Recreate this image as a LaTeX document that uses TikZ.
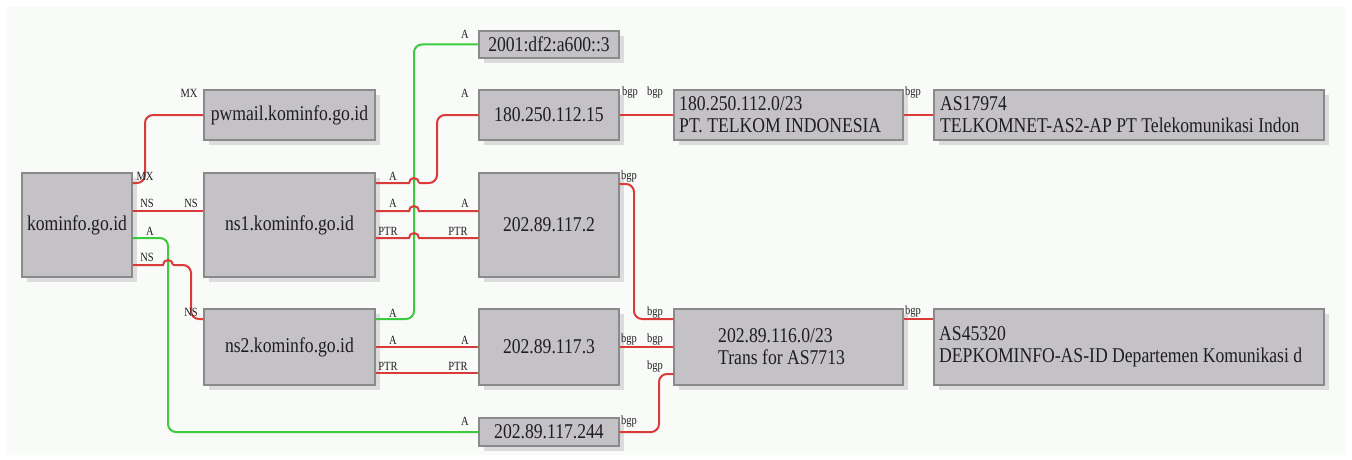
\documentclass[tikz,border=0pt]{standalone}
\usepackage{fontspec}
\setmainfont{Liberation Serif}[FakeStretch=0.84]
\usetikzlibrary{shadows}
\definecolor{boxfill}{HTML}{C4C2C6}
\definecolor{boxline}{HTML}{8A8A8A}
\definecolor{shadowc}{HTML}{DCDCDC}
\definecolor{redl}{HTML}{D93A3A}
\definecolor{greenl}{HTML}{3CCB3C}
\definecolor{bgc}{HTML}{F9FBF9}
\definecolor{txtc}{HTML}{1E1E1E}
\begin{document}
\begin{tikzpicture}[x=1pt,y=-1pt,
  box/.style={draw=boxline, fill=boxfill, line width=1.2pt, inner sep=0pt, text=txtc,
    font=\fontsize{21}{22}\selectfont,
    drop shadow={shadow xshift=5pt, shadow yshift=-5pt, fill=shadowc, opacity=1}},
  boxtext/.style={inner sep=0pt, text=txtc, align=left, anchor=west, font=\fontsize{21}{22}\selectfont},
  lab/.style={inner sep=0pt, text=txtc, font=\fontsize{12.5}{13}\selectfont},
  rl/.style={draw=redl, line width=2pt},
  gl/.style={draw=greenl, line width=2pt},
  hump/.style={start angle=180, end angle=0, radius=5pt}
]
\useasboundingbox (0,0) rectangle (1352,460);
\fill[white] (0,0) rectangle (1352,460);
\fill[bgc] (7,7) rectangle (1345,455);

% boxes
\node[box, minimum width=110pt, minimum height=104pt] (kom) at (77,225) {kominfo.go.id};
\node[box, minimum width=171pt, minimum height=50pt] (pw) at (289.5,115) {pwmail.kominfo.go.id};
\node[box, minimum width=171pt, minimum height=104pt] (ns1) at (289.5,225) {ns1.kominfo.go.id};
\node[box, minimum width=171pt, minimum height=76pt] (ns2) at (289.5,347) {ns2.kominfo.go.id};
\node[box, minimum width=140pt, minimum height=27pt] (v6) at (549,44.5) {2001:df2:a600::3};
\node[box, minimum width=140pt, minimum height=50pt] (ip15) at (549,115) {180.250.112.15};
\node[box, minimum width=140pt, minimum height=104pt] (ip2) at (549,225) {202.89.117.2};
\node[box, minimum width=140pt, minimum height=76pt] (ip3) at (549,347) {202.89.117.3};
\node[box, minimum width=140pt, minimum height=28pt] (ip244) at (549,432) {202.89.117.244};
\node[box, minimum width=229pt, minimum height=50pt] (net1) at (788.5,115) {};
\node[box, minimum width=390pt, minimum height=50pt] (as1) at (1129,115) {};
\node[box, minimum width=229pt, minimum height=76pt] (net2) at (788.5,347) {};
\node[box, minimum width=390pt, minimum height=76pt] (as2) at (1129,347) {};
\node[boxtext] (net1t) at (679,0 |- net1.west) {180.250.112.0/23\\PT. TELKOM INDONESIA};
\node[boxtext] (as1t) at (940,0 |- as1.west) {AS17974\\TELKOMNET-AS2-AP PT Telekomunikasi Indon};
\node[boxtext] (net2t) at (718,0 |- net2.west) {202.89.116.0/23\\Trans for AS7713};
\node[boxtext] (as2t) at (939,0 |- as2.west) {AS45320\\DEPKOMINFO-AS-ID Departemen Komunikasi d};

% green connectors
\draw[gl, rounded corners=8pt] (kom.east |- 0,238) -| (168,432) -- (ip244.west);
\draw[gl, rounded corners=8pt] (ns2.east |- 0,319) -| (414,44.5) -- (v6.west);

% red connectors
\draw[rl, rounded corners=8pt] (kom.east |- 0,183) -| (145,115) -- (pw.west);
\draw[rl] (kom.east |- 0,211) -- (ns1.west |- 0,211);
\draw[rl] (kom.east |- 0,265) -- (163,265) arc[hump] (173,265) [rounded corners=8pt] -- (191,265) -- (191,319) -- (ns2.west |- 0,319);
\draw[rl] (ns1.east |- 0,183) -- (409,183) arc[hump] (419,183) [rounded corners=8pt] -- (437,183) -- (437,115) -- (ip15.west);
\draw[rl] (ns1.east |- 0,211) -- (409,211) arc[hump] -- (ip2.west |- 0,211);
\draw[rl] (ns1.east |- 0,238) -- (409,238) arc[hump] -- (ip2.west |- 0,238);
\draw[rl] (ns2.east |- 0,347) -- (ip3.west);
\draw[rl] (ns2.east |- 0,373) -- (ip3.west |- 0,373);
\draw[rl] (ip15.east) -- (net1.west);
\draw[rl] (net1.east) -- (as1.west);
\draw[rl, rounded corners=8pt] (ip2.east |- 0,184) -| (634,319) -- (net2.west |- 0,319);
\draw[rl] (ip3.east) -- (net2.west);
\draw[rl, rounded corners=8pt] (ip244.east) -| (659,374) -- (net2.west |- 0,374);
\draw[rl] (net2.east |- 0,319) -- (as2.west |- 0,319);

% edge labels
\node[lab] (l1) at (145,176) {MX};
\node[lab] (l2) at (189,93) {MX};
\node[lab] (l3) at (147,203) {NS};
\node[lab] (l4) at (191,203) {NS};
\node[lab] (l5) at (150,231) {A};
\node[lab] (l6) at (465,421) {A};
\node[lab] (l7) at (147,257) {NS};
\node[lab] (l8) at (191,312) {NS};
\node[lab] (l9) at (393,176) {A};
\node[lab] (l10) at (465,93) {A};
\node[lab] (l11) at (393,203) {A};
\node[lab] (l12) at (465,203) {A};
\node[lab] (l13) at (388,231) {PTR};
\node[lab] (l14) at (458,231) {PTR};
\node[lab] (l15) at (393,313) {A};
\node[lab] (l16) at (465,34) {A};
\node[lab] (l17) at (393,340) {A};
\node[lab] (l18) at (465,340) {A};
\node[lab] (l19) at (388,366) {PTR};
\node[lab] (l20) at (458,366) {PTR};
\node[lab] (l21) at (630,93) {bgp};
\node[lab] (l22) at (655,93) {bgp};
\node[lab] (l23) at (913,93) {bgp};
\node[lab] (l24) at (629,177) {bgp};
\node[lab] (l25) at (655,313) {bgp};
\node[lab] (l26) at (629,340) {bgp};
\node[lab] (l27) at (655,340) {bgp};
\node[lab] (l28) at (629,422) {bgp};
\node[lab] (l29) at (655,367) {bgp};
\node[lab] (l30) at (913,312) {bgp};
\end{tikzpicture}
\end{document}
